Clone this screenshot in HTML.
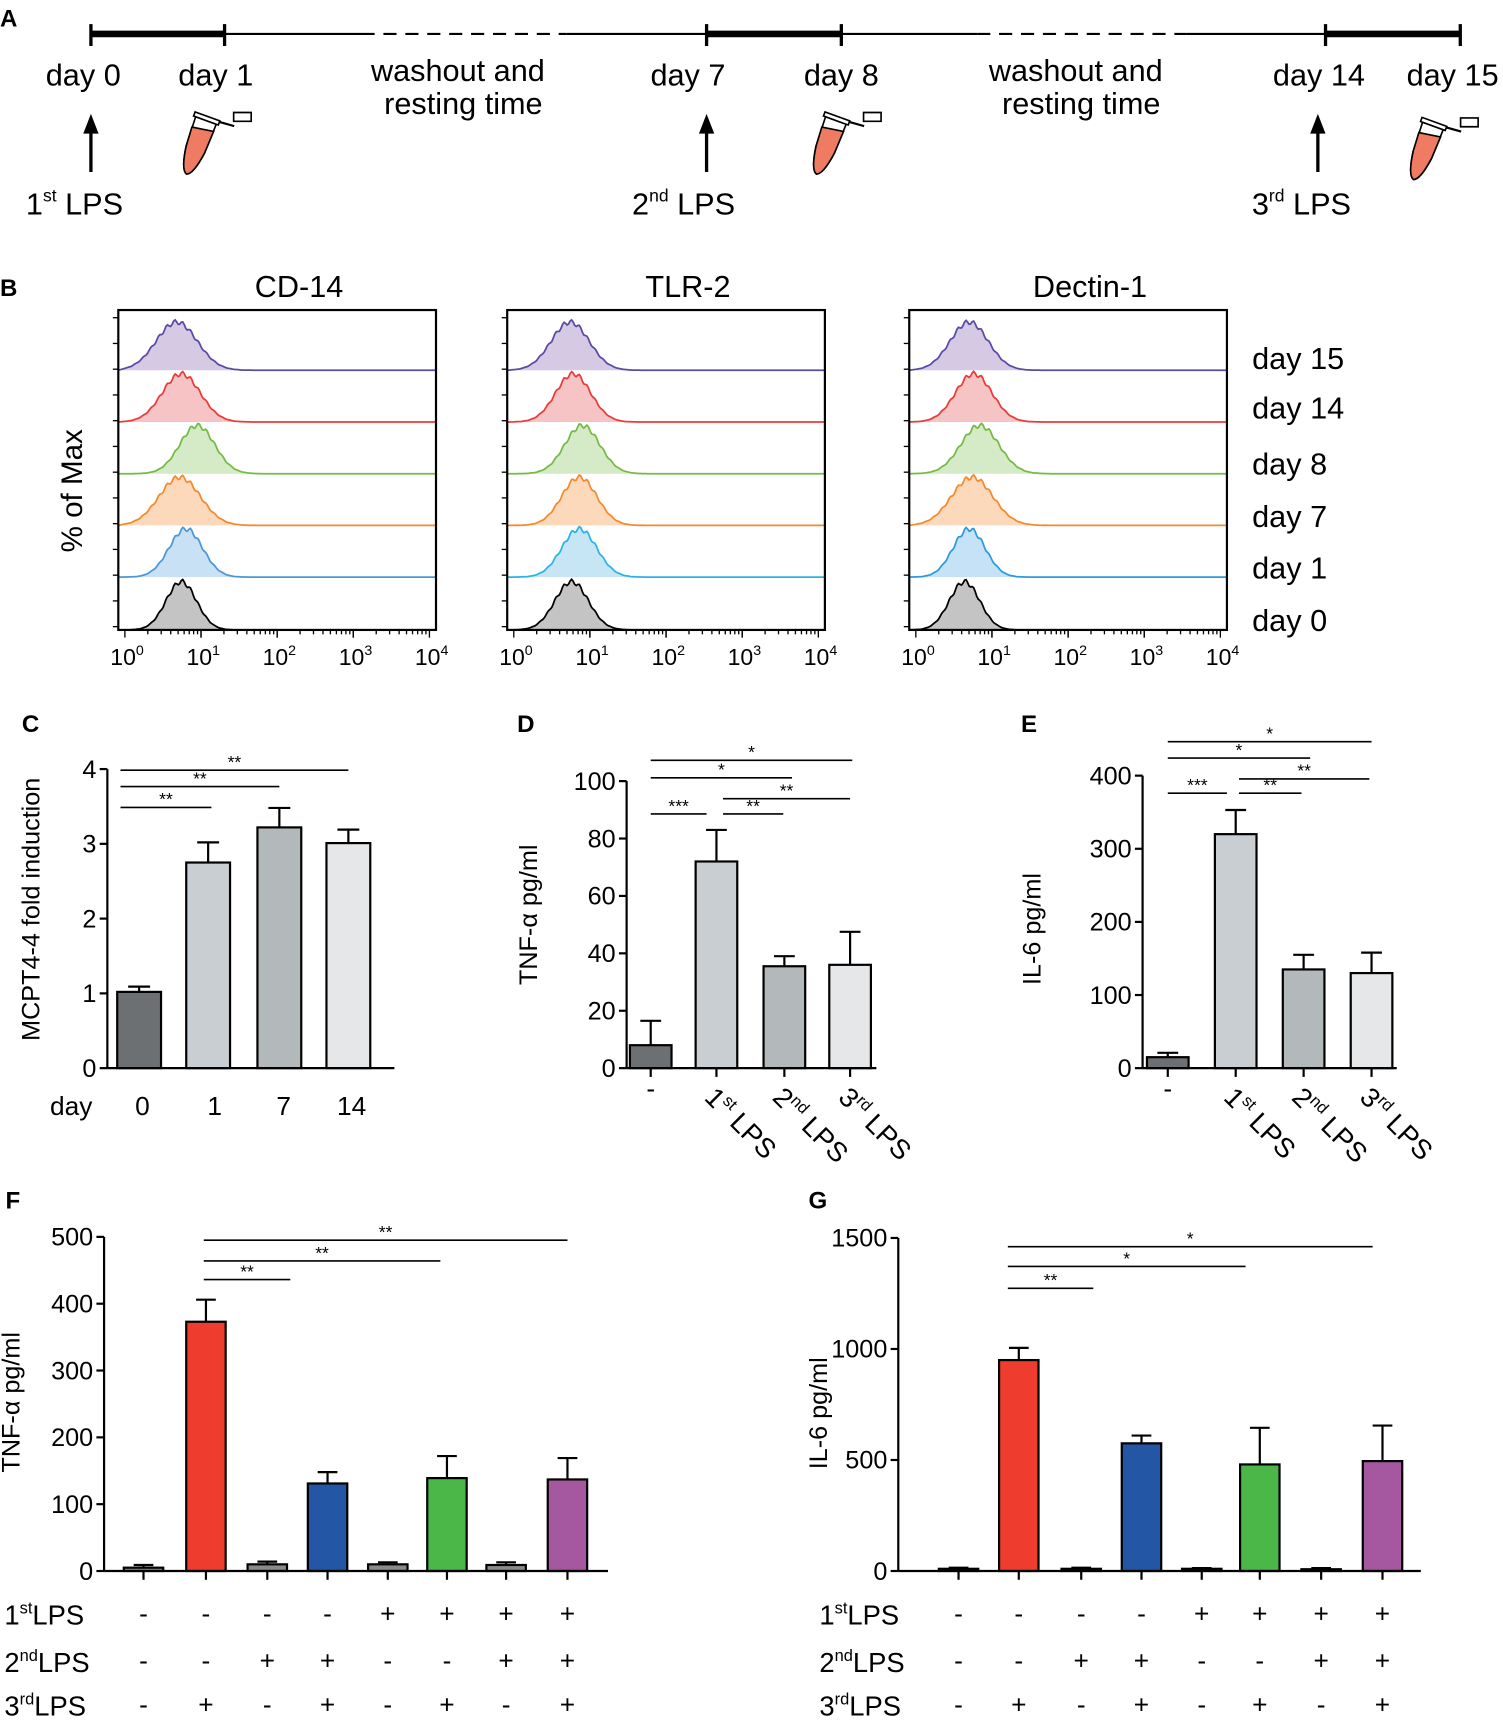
<!DOCTYPE html>
<html><head><meta charset="utf-8"><style>
html,body{margin:0;padding:0;background:#fff}
svg{display:block;font-family:"Liberation Sans",Arial,sans-serif}
</style></head><body>
<svg id="fig" width="1503" height="1720" viewBox="0 0 1372 1570" preserveAspectRatio="none" xmlns="http://www.w3.org/2000/svg">
<g id="A">
<text x="0" y="24" font-size="22" font-weight="bold">A</text>
<g stroke="#000" fill="none">
<line x1="83" y1="31" x2="205" y2="31" stroke-width="6"/>
<line x1="645" y1="31" x2="768" y2="31" stroke-width="6"/>
<line x1="1210" y1="31" x2="1333" y2="31" stroke-width="6"/>
<line x1="205" y1="31" x2="330" y2="31" stroke-width="2"/>
<line x1="517" y1="31" x2="645" y2="31" stroke-width="2"/>
<line x1="768" y1="31" x2="892" y2="31" stroke-width="2"/>
<line x1="1083" y1="31" x2="1210" y2="31" stroke-width="2"/>
<line x1="330" y1="31" x2="517" y2="31" stroke-width="2" stroke-dasharray="12,8"/>
<line x1="892" y1="31" x2="1083" y2="31" stroke-width="2" stroke-dasharray="12,8"/>
<g stroke-width="3"><line x1="83" y1="22" x2="83" y2="42"/><line x1="205" y1="22" x2="205" y2="42"/><line x1="645" y1="22" x2="645" y2="42"/><line x1="768" y1="22" x2="768" y2="42"/><line x1="1210" y1="22" x2="1210" y2="42"/><line x1="1333" y1="22" x2="1333" y2="42"/></g>
<g stroke-width="3"><line x1="83" y1="157" x2="83" y2="120"/><line x1="645" y1="157" x2="645" y2="120"/><line x1="1203" y1="157" x2="1203" y2="120"/></g>
</g>
<g fill="#000"><polygon points="76,122 90,122 83,104"/><polygon points="638,122 652,122 645,104"/><polygon points="1196,122 1210,122 1203,104"/></g>
<g font-size="28" text-anchor="middle">
<text x="76" y="78">day 0</text><text x="197" y="78">day 1</text>
<text x="418" y="74">washout and</text><text x="423" y="104">resting time</text>
<text x="628" y="78">day 7</text><text x="768" y="78">day 8</text>
<text x="982" y="74">washout and</text><text x="987" y="104">resting time</text>
<text x="1204" y="78">day 14</text><text x="1326" y="78">day 15</text>
<text x="68" y="196">1<tspan font-size="16" dy="-12">st</tspan><tspan dy="12"> LPS</tspan></text>
<text x="624" y="196">2<tspan font-size="16" dy="-12">nd</tspan><tspan dy="12"> LPS</tspan></text>
<text x="1188" y="196">3<tspan font-size="16" dy="-12">rd</tspan><tspan dy="12"> LPS</tspan></text>
</g>
<g id="tubes"></g>
</g>
<g id="B">
<text x="0" y="270" font-size="22" font-weight="bold">B</text>
<text x="75" y="448" font-size="27" text-anchor="middle" transform="rotate(-90 75 448)">% of Max</text>
</g>
<g id="C"><text x="20" y="668" font-size="22" font-weight="bold">C</text></g>
<g id="D"><text x="472" y="668" font-size="22" font-weight="bold">D</text></g>
<g id="E"><text x="932" y="668" font-size="22" font-weight="bold">E</text></g>
<g id="F"><text x="5" y="1103" font-size="22" font-weight="bold">F</text></g>
<g id="G"><text x="738" y="1103" font-size="22" font-weight="bold">G</text></g>
</svg>
<script>
const NS="http://www.w3.org/2000/svg";
function mk(p,tag,a,txt){const e=document.createElementNS(NS,tag);for(const k in a)e.setAttribute(k,a[k]);if(txt!==undefined)e.textContent=txt;p.appendChild(e);return e;}
// tubes
const tubesG=document.getElementById('tubes');
[[188,110],[763,110],[1308,115]].forEach(([x,y])=>{
 const g=mk(tubesG,'g',{transform:`translate(${x},${y}) rotate(20)`});
 
 
 mk(g,'path',{d:'M-10,0 L10,0 L9,28 Q6,50 0,52 Q-6,50 -9,28 Z',fill:'#fff',stroke:'#000','stroke-width':1.5});
 mk(g,'path',{d:'M-10,10 L10,7 L9,28 Q6,50 0,52 Q-6,50 -9,28 Z',fill:'#ef7b63',stroke:'#000','stroke-width':1.5});
 mk(g,'rect',{x:-12,y:-4,width:24,height:4,fill:'#fff',stroke:'#000','stroke-width':1.5});
 mk(g,'path',{d:'M12,-3 L26,-4',stroke:'#000','stroke-width':2,fill:'none'});
 mk(g,'rect',{x:24,y:-16,width:16,height:8,fill:'#fff',stroke:'#000','stroke-width':1.5,transform:'rotate(-20 24 -8)'});
});
// ---- B histograms
const histPanels=['CD-14','TLR-2','Dectin-1'];
const histRows=['day 15','day 14','day 8','day 7','day 1','day 0'];
const histCenters=[[0.68,0.74,0.95,0.72,0.80,0.74],[0.74,0.78,0.90,0.86,0.86,0.76],[0.70,0.76,0.84,0.74,0.70,0.64]];
const histSpreads=[[0.27,0.25,0.23,0.27,0.22,0.2],[0.25,0.23,0.23,0.23,0.23,0.22],[0.25,0.24,0.25,0.27,0.21,0.2]];
const histStroke=[['#5a4aa6','#ea3b3b','#74bb45','#f58a2d','#4b97d8','#000'],['#5a4aa6','#ea3b3b','#74bb45','#f58a2d','#2bb3e8','#000'],['#5a4aa6','#ea3b3b','#74bb45','#f58a2d','#2b9be0','#000']];
const histFill=[['#d6c9e4','#f6c4c4','#d5eac6','#fdd9bc','#c9e1f5','#c4c4c4'],['#d6c9e4','#f6c4c4','#d5eac6','#fdd9bc','#c6e6f6','#c4c4c4'],['#d6c9e4','#f6c4c4','#d5eac6','#fdd9bc','#c6e2f6','#c4c4c4']];
const B=document.getElementById('B');
const pLeft=[108,463,830],pW=290,pTop=283,pBot=575,rowH=47.2;
histPanels.forEach((name,pi)=>{
 const L=pLeft[pi];const xs=v=>L+6+v*69.5;
 const g=mk(B,'g',{});
 
 
 mk(g,'text',{x:L+pW/2+20,y:271,'font-size':28,'text-anchor':'middle'},name);
 histRows.forEach((r,ri)=>{
  const bY=ri==5?pBot:pTop+55+ri*rowH;
  const c=histCenters[pi][ri],s=histSpreads[pi][ri];
  let d=`M${L},${bY}`;
  for(let v=0;v<=4.1;v+=0.02){let y=bY-44*Math.exp(-Math.pow((v-c)/s,2)/2)*(1+0.05*Math.sin(v*60));d+=` L${xs(Math.min(v,4.1)).toFixed(1)},${y.toFixed(1)}`;}
  d+=` L${L+pW},${bY}`;
  const p=mk(g,'path',{d:d+' Z',fill:histFill[pi][ri],stroke:'none'});
  
  
  mk(g,'path',{d:d,fill:'none',stroke:histStroke[pi][ri],'stroke-width':1.6});
  if(pi==2){const t=mk(B,'text',{x:1143,y:[336,381,432,480,527,575][ri]+1,'font-size':28},r);
   
   }
 });
 mk(g,'rect',{x:L,y:pTop,width:pW,height:pBot-pTop,fill:'none',stroke:'#000','stroke-width':2});
 for(let y=pTop+7;y<pBot;y+=23.5)mk(g,'line',{x1:L-5,y1:y,x2:L,y2:y,stroke:'#000','stroke-width':1.2});
 for(let dec=0;dec<4;dec++)for(let k=1;k<=10;k++){const x=xs(dec+Math.log10(k));mk(g,'line',{x1:x,y1:pBot,x2:x,y2:pBot+(k==1||k==10?7:4),stroke:'#000','stroke-width':1.2});}
 for(let dec=0;dec<=4;dec++){const t=mk(g,'text',{x:xs(dec)+2,y:pBot+32,'font-size':21,'text-anchor':'middle'});t.innerHTML='10<tspan font-size="13" dy="-9">'+dec+'</tspan>';}
});
function barChart(o){
 const g=document.getElementById(o.id);
 const ys=v=>o.y0-(v/o.max)*(o.y0-o.yTop);
 o.ticks.forEach(t=>{mk(g,'line',{x1:o.ax-7,y1:ys(t),x2:o.ax,y2:ys(t),stroke:'#000','stroke-width':2});
  const tx=mk(g,'text',{x:o.ax-10,y:ys(t)+8,'font-size':23,'text-anchor':'end'},t);
  
  });
 o.cats.forEach((c,i)=>{
  const x=o.centers[i],v=o.vals[i],e=o.errs[i];
  mk(g,'line',{x1:x,y1:ys(v),x2:x,y2:ys(v+e),stroke:'#000','stroke-width':2});
  mk(g,'line',{x1:x-o.bw/4,y1:ys(v+e),x2:x+o.bw/4,y2:ys(v+e),stroke:'#000','stroke-width':2});
  const r=mk(g,'rect',{x:x-o.bw/2,y:ys(v),width:o.bw,height:o.y0-ys(v),fill:o.colors[i],stroke:'#000','stroke-width':2});
  
  
  if(o.xticks)mk(g,'line',{x1:x,y1:o.y0,x2:x,y2:o.y0+8,stroke:'#000','stroke-width':2});
 });
 mk(g,'line',{x1:o.ax,y1:o.yTop,x2:o.ax,y2:o.y0,stroke:'#000','stroke-width':2});
 mk(g,'line',{x1:o.ax,y1:o.y0,x2:o.axEnd,y2:o.y0,stroke:'#000','stroke-width':2});
 const yt=mk(g,'text',{x:o.tx,y:o.ty,'font-size':23,'text-anchor':'middle',transform:`rotate(-90 ${o.tx} ${o.ty})`},o.title);
 
 
 o.sig.forEach(s=>{mk(g,'line',{x1:s[0],y1:s[2],x2:s[1],y2:s[2],stroke:'#000','stroke-width':1.5});
  mk(g,'text',{x:(s[0]+s[1])/2,y:s[2]-2,'font-size':16,'text-anchor':'middle'},s[3]);});
 return {g,ys};
}
const cCats=['0','1','7','14'];
const cVals=[1.02,2.75,3.22,3.01];
const cErrs=[0.07,0.27,0.26,0.18];
const gray4=['#6d7073','#c9ced2','#b3b8bb','#e6e7e8'];
const C=barChart({id:'C',cats:cCats,vals:cVals,errs:cErrs,centers:[127,190,255,318],bw:40,colors:gray4,ax:98,axEnd:360,y0:975,yTop:702,max:4,ticks:[0,1,2,3,4],title:'MCPT4-4 fold induction',tx:36,ty:830,
 sig:[[110,193,737,'**'],[110,255,718,'**'],[110,318,703,'**']]});
mk(C.g,'text',{x:65,y:1018,'font-size':24,'text-anchor':'middle'},'day');
cCats.forEach((c,i)=>mk(C.g,'text',{x:[130,196,259,321][i],y:1018,'font-size':24,'text-anchor':'middle'},c));
const dCats=['none','1st','2nd','3rd'];
const dVals=[8,72,35.5,36];
const dErrs=[8.5,11,3.5,11.5];
const D=barChart({id:'D',cats:dCats,vals:dVals,errs:dErrs,centers:[594,654,716,776],bw:38,colors:gray4,ax:572,axEnd:800,y0:975,yTop:713,max:100,ticks:[0,20,40,60,80,100],title:'TNF-α pg/ml',tx:490,ty:835,xticks:true,
 sig:[[594,645,743,'***'],[660,715,743,'**'],[594,723,710,'*'],[660,776,729,'**'],[594,778,694,'*']]});
const eVals=[15,320,135,130];
const eErrs=[6,33,20,28];
const E=barChart({id:'E',cats:dCats,vals:eVals,errs:eErrs,centers:[1066,1128,1190,1252],bw:38,colors:gray4,ax:1043,axEnd:1275,y0:975,yTop:708,max:400,ticks:[0,100,200,300,400],title:'IL-6 pg/ml',tx:950,ty:848,xticks:true,
 sig:[[1066,1120,724,'***'],[1131,1188,724,'**'],[1066,1196,692,'*'],[1131,1250,711,'**'],[1066,1252,677,'*']]});
function rotLabels(g,centers){
 const sup=['','st','nd','rd'];
 centers.forEach((x,i)=>{
  if(i==0){mk(g,'text',{x:x,y:1002,'font-size':24,'text-anchor':'middle'},'-');return;}
  const t=mk(g,'text',{x:x-12,y:1003,'font-size':25,transform:`rotate(45 ${x-12} 1003)`});
  t.innerHTML=i+'<tspan font-size="15" dy="-10">'+sup[i]+'</tspan><tspan dy="10"> LPS</tspan>';
 });
}
rotLabels(D.g,[594,654,716,776]);rotLabels(E.g,[1066,1128,1190,1252]);
const fgCats=['c1','c2','c3','c4','c5','c6','c7','c8'];
const row1=['-','-','-','-','+','+','+','+'];
const row2=['-','-','+','+','-','-','+','+'];
const row3=['-','+','-','+','-','+','-','+'];
const fgColors=['#8a8a8a','#ee3d2f','#8a8a8a','#2456a6','#8a8a8a','#4bb748','#8a8a8a','#a5579f'];
const fVals=[5,373,10,131,10,139,9,137];
const fErrs=[4,33,4,17,3,33,4,32];
const gVals=[10,950,10,575,10,480,8,495];
const gErrs=[5,55,5,35,3,165,5,160];
const fC=[131,188,244,299,354,408,462,518],gC=[875,930,987,1042,1097,1150,1206,1262];
const F=barChart({id:'F',cats:fgCats,vals:fVals,errs:fErrs,centers:fC,bw:36,colors:fgColors,ax:95,axEnd:555,y0:1434,yTop:1129,max:500,ticks:[0,100,200,300,400,500],title:'TNF-α pg/ml',tx:18,ty:1280,xticks:true,
 sig:[[186,265,1168,'**'],[186,402,1151,'**'],[186,518,1132,'**']]});
const G=barChart({id:'G',cats:fgCats,vals:gVals,errs:gErrs,centers:gC,bw:36,colors:fgColors,ax:820,axEnd:1297,y0:1434,yTop:1130,max:1500,ticks:[0,500,1000,1500],title:'IL-6 pg/ml',tx:755,ty:1290,xticks:true,
 sig:[[920,998,1176,'**'],[920,1137,1156,'*'],[920,1253,1138,'*']]});
function table(g,lx,centers){
 const sup=['st','nd','rd'];
 [row1,row2,row3].forEach((row,ri)=>{
  const y=[1483,1526,1566][ri];
  const t=mk(g,'text',{x:lx,y:y,'font-size':25});
  t.innerHTML=(ri+1)+'<tspan font-size="15" dy="-10">'+sup[ri]+'</tspan><tspan dy="10">LPS</tspan>';
  row.forEach((s,i)=>mk(g,'text',{x:centers[i],y:y-2,'font-size':24,'text-anchor':'middle'},s));
 });
}
table(F.g,4,fC);table(G.g,748,gC);
</script>
</body></html>
